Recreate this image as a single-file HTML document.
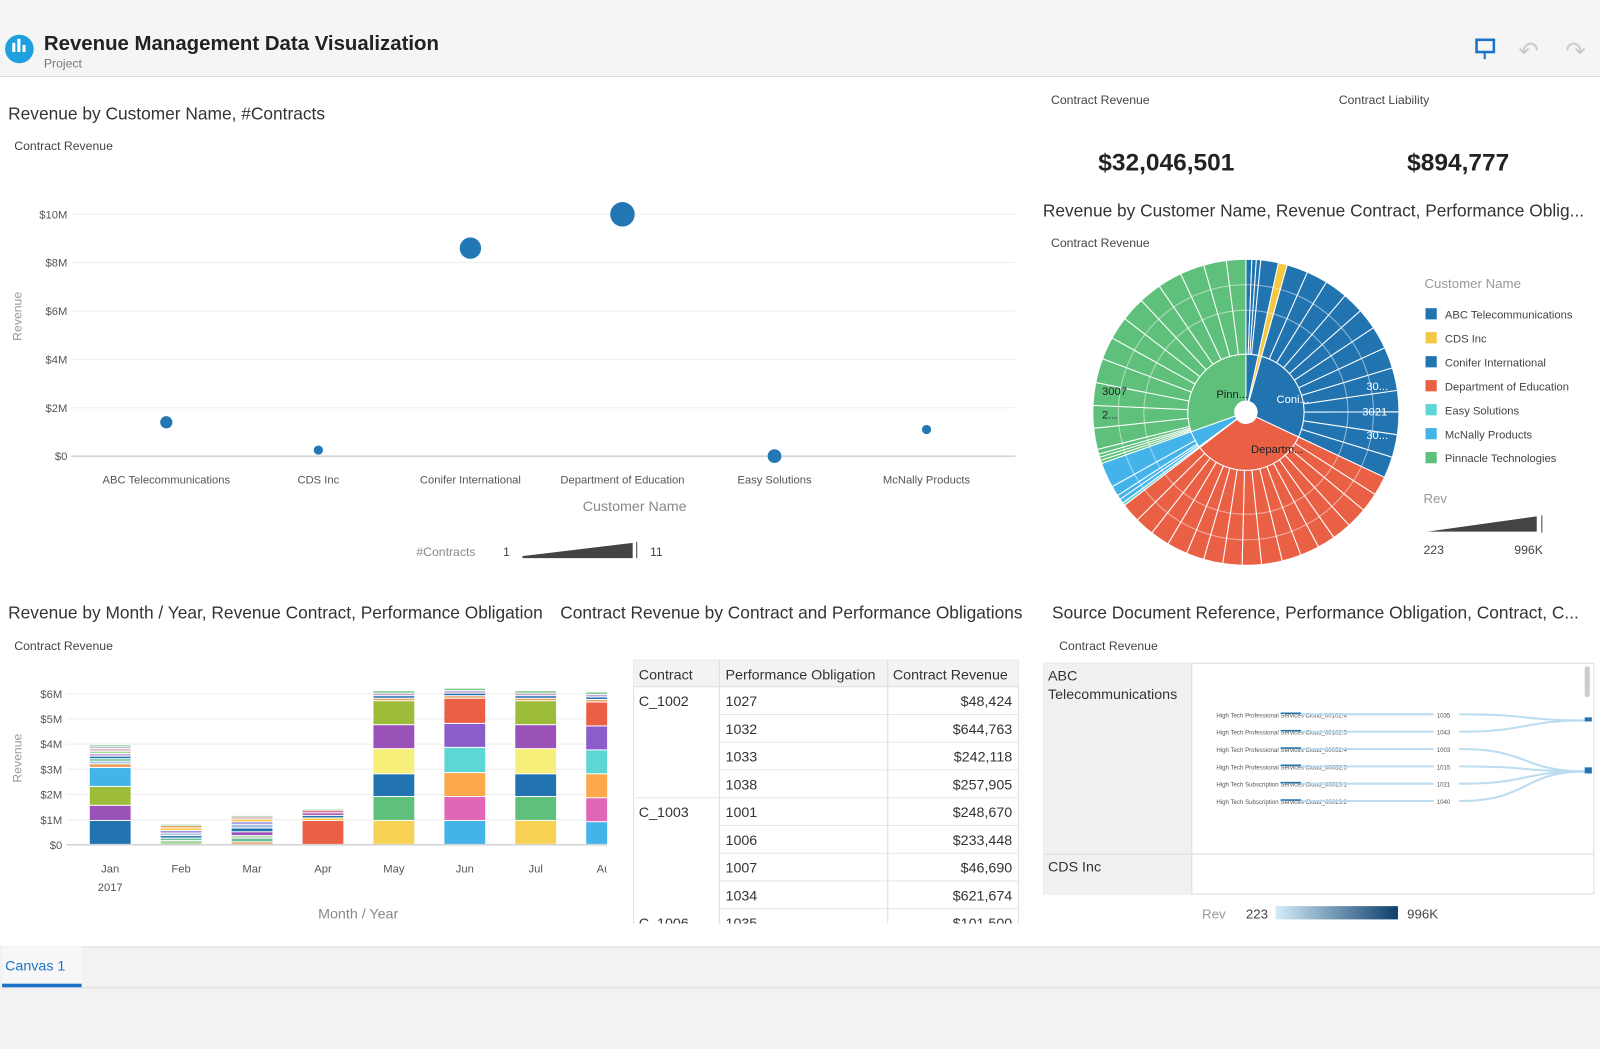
<!DOCTYPE html>
<html><head><meta charset="utf-8"><style>
html,body{margin:0;padding:0;background:#fff;overflow:hidden}
svg{display:block;font-family:"Liberation Sans",sans-serif}
</style></head><body>
<svg id="root" width="1600" height="1049" viewBox="0 0 1568 1028" preserveAspectRatio="none">
<rect x="0" y="0" width="1568" height="1028" fill="#ffffff"/>
<g>
<rect x="0" y="0" width="1568" height="75" fill="#f5f5f5"/>
<line x1="0" y1="75" x2="1568" y2="75" stroke="#dcdcdc"/>
<circle cx="19" cy="48" r="14" fill="#1ea0de"/>
<rect x="12" y="42" width="3" height="9" fill="#fff"/><rect x="17" y="38" width="3" height="13" fill="#fff"/><rect x="22" y="44" width="3" height="7" fill="#fff"/>
<text x="43" y="49" font-size="20" font-weight="bold" fill="#222">Revenue Management Data Visualization</text>
<text x="43" y="66" font-size="12" fill="#777">Project</text>
<g><rect x="1447" y="39" width="17" height="12" fill="none" stroke="#1a73c8" stroke-width="2.5"/><line x1="1455" y1="51" x2="1455" y2="58" stroke="#1a73c8" stroke-width="2"/></g>
<text x="1488" y="58" font-size="24" fill="#ccc">↶</text>
<text x="1534" y="58" font-size="24" fill="#ccc">↷</text>
</g>

<!-- Scatter chart -->
<g>
<text x="8" y="117" font-size="17" fill="#333">Revenue by Customer Name, #Contracts</text>
<text x="14" y="147" font-size="12" fill="#444">Contract Revenue</text>
<text transform="translate(21,310) rotate(-90)" font-size="12" fill="#999" text-anchor="middle">Revenue</text>
<defs><clipPath id="scclip"><rect x="0" y="150" width="996" height="340"/></clipPath></defs>
<g id="scatter" clip-path="url(#scclip)"></g>
<text x="622" y="501" font-size="14" fill="#888" text-anchor="middle">Customer Name</text>
<g>
<text x="408" y="545" font-size="12" fill="#888">#Contracts</text>
<text x="493" y="545" font-size="12" fill="#444">1</text>
<polygon points="512,545 620,532 620,547 512,547" fill="#444"/>
<line x1="624" y1="531" x2="624" y2="547" stroke="#444"/>
<text x="637" y="545" font-size="12" fill="#444">11</text>
</g>
</g>

<!-- KPIs -->
<g>
<text x="1030" y="102" font-size="12" fill="#444">Contract Revenue</text>
<text x="1312" y="102" font-size="12" fill="#444">Contract Liability</text>
<text x="1143" y="167" font-size="24" font-weight="bold" fill="#222" text-anchor="middle">$32,046,501</text>
<text x="1429" y="167" font-size="24" font-weight="bold" fill="#222" text-anchor="middle">$894,777</text>
</g>

<!-- Sunburst -->
<g>
<text x="1022" y="212" font-size="17" fill="#333">Revenue by Customer Name, Revenue Contract, Performance Oblig...</text>
<text x="1030" y="242" font-size="12" fill="#444">Contract Revenue</text>
<g id="sunburst"></g>
<g id="sunlegend"></g>
<text x="1395" y="493" font-size="13" fill="#999">Rev</text>
<polygon points="1399,521 1506,506 1506,521" fill="#444"/>
<line x1="1511" y1="505" x2="1511" y2="522" stroke="#444"/>
<text x="1395" y="543" font-size="12" fill="#444">223</text>
<text x="1484" y="543" font-size="12" fill="#444">996K</text>
</g>

<!-- Bar chart -->
<g>
<text x="8" y="606" font-size="17" fill="#333">Revenue by Month / Year, Revenue Contract, Performance Obligation</text>
<text x="14" y="637" font-size="12" fill="#444">Contract Revenue</text>
<text transform="translate(21,743) rotate(-90)" font-size="12" fill="#999" text-anchor="middle">Revenue</text>
<defs><clipPath id="barclip"><rect x="60" y="600" width="535" height="300"/></clipPath></defs>
<g id="bars" clip-path="url(#barclip)"></g>
<text x="351" y="900" font-size="14" fill="#888" text-anchor="middle">Month / Year</text>
</g>

<!-- Table -->
<g>
<text x="549" y="606" font-size="17" fill="#333">Contract Revenue by Contract and Performance Obligations</text>
<defs><clipPath id="tblclip"><rect x="620" y="645" width="380" height="260"/></clipPath></defs>
<g id="table" clip-path="url(#tblclip)"></g>
</g>

<!-- Sankey table -->
<g>
<text x="1031" y="606" font-size="17" fill="#333">Source Document Reference, Performance Obligation, Contract, C...</text>
<text x="1038" y="637" font-size="12" fill="#444">Contract Revenue</text>
<rect x="1023" y="650" width="539" height="226" fill="#fff" stroke="#ddd"/>
<rect x="1023" y="650" width="145" height="226" fill="#f1f1f1"/>
<line x1="1023" y1="837" x2="1562" y2="837" stroke="#ddd"/>
<line x1="1168" y1="650" x2="1168" y2="876" stroke="#ddd"/>
<text x="1027" y="667" font-size="14" fill="#333">ABC</text>
<text x="1027" y="685" font-size="14" fill="#333">Telecommunications</text>
<text x="1027" y="854" font-size="14" fill="#333">CDS Inc</text>
<rect x="1553" y="653" width="5" height="30" fill="#ccc" rx="2"/>
<g id="flows"></g>
<text x="1178" y="900" font-size="13" fill="#999">Rev</text>
<text x="1221" y="900" font-size="13" fill="#444">223</text>
<defs><linearGradient id="rg"><stop offset="0" stop-color="#d4ecfa"/><stop offset="1" stop-color="#0d3f6b"/></linearGradient></defs>
<rect x="1250" y="888" width="120" height="13" fill="url(#rg)"/>
<text x="1379" y="900" font-size="13" fill="#444">996K</text>
</g>

<!-- Bottom tabs -->
<g>
<rect x="0" y="928" width="1568" height="100" fill="#f2f2f2"/>
<line x1="0" y1="928" x2="1568" y2="928" stroke="#ddd"/>
<rect x="2" y="928" width="78" height="40" fill="#f7f7f7"/>
<rect x="2" y="964" width="78" height="4" fill="#1a73c8"/>
<text x="5" y="951" font-size="14" fill="#1a73c8">Canvas 1</text>
<line x1="0" y1="968" x2="1568" y2="968" stroke="#ddd"/>
</g>
</svg>
<script>
const NS='http://www.w3.org/2000/svg';
function mk(tag,attrs,parent,txt){const e=document.createElementNS(NS,tag);for(const k in attrs)e.setAttribute(k,attrs[k]);if(txt!==undefined)e.textContent=txt;parent.appendChild(e);return e;}

/* ---------- Scatter data ---------- */
const customers=['ABC Telecommunications','CDS Inc','Conifer International','Department of Education','Easy Solutions','McNally Products','Pinnacle Technologies'];
const revenueM=[1.4,0.25,8.6,10.0,0,1.1,9.8];
const contracts=[3,1,9,11,4,1,10];
const yTicks=[0,2,4,6,8,10];
const yTickLabels=['$0','$2M','$4M','$6M','$8M','$10M'];

const sx=i=>163+i*149;
const sy=v=>447-v*23.7;
const sr=c=>4.5+(c-1)*0.75;
const sc=document.getElementById('scatter');
yTicks.forEach((t,i)=>{
  const g=mk('line',{x1:70,x2:995,y1:sy(t),y2:sy(t),stroke:t===0?'#bbb':'#eee'},sc);
  
  
  const l=mk('text',{x:66,y:sy(t)+4,'font-size':11,fill:'#555','text-anchor':'end'},sc,yTickLabels[i]);
  
  
});
customers.forEach((c,i)=>{
  const lbl=mk('text',{x:sx(i),y:474,'font-size':11,fill:'#555','text-anchor':'middle'},sc,c);
  
  
  const p=mk('circle',{cx:sx(i),cy:sy(revenueM[i]),r:sr(contracts[i]),fill:'#2277b4'},sc);
  
  
});

/* ---------- Sunburst data ---------- */
const sbColors=['#2274b1','#f5c842','#2274b1','#ea6045','#5fd6d6','#43b3ea','#5ec07a'];
const sbValues=[1.1,0.3,8.9,10.5,0.1,1.5,9.8];
const sbChildren=[
 [0.2,0.15,0.15,0.6],[0.3],
 [0.7,0.7,0.75,0.7,0.7,0.75,0.7,0.75,0.7,0.75,0.75,0.7],
 [0.65,0.65,0.7,0.65,0.6,0.65,0.65,0.7,0.65,0.65,0.65,0.6,0.7,0.65,0.65,0.65],
 [0.1],[0.15,0.15,0.35,0.85],
 [0.1,0.1,0.1,0.15,0.65,0.7,0.7,0.75,0.7,0.7,0.75,0.7,0.75,0.75,0.7,0.6]
];
const CX=1221,CY=404,R0=11,R1=57,R2=150;
const total=sbValues.reduce((a,b)=>a+b,0);
const ang=v=>v/total*2*Math.PI;
function arc(a0,a1,r0,r1){
  const p=(a,r)=>[CX+r*Math.sin(a),CY-r*Math.cos(a)];
  const [x0,y0]=p(a0,r1),[x1,y1]=p(a1,r1),[x2,y2]=p(a1,r0),[x3,y3]=p(a0,r0);
  const lg=(a1-a0)>Math.PI?1:0;
  return `M${x0},${y0}A${r1},${r1} 0 ${lg} 1 ${x1},${y1}L${x2},${y2}A${r0},${r0} 0 ${lg} 0 ${x3},${y3}Z`;
}
const sb=document.getElementById('sunburst');
let a=0;
sbValues.forEach((v,i)=>{
  const a1=a+ang(v);
  const p=mk('path',{d:arc(a,a1,R0,R1),fill:sbColors[i],stroke:'#fff','stroke-width':1},sb);
  
  
  const ch=sbChildren[i];const cs=ch.reduce((x,y)=>x+y,0);
  let b=a;
  ch.forEach(cv=>{
    const b1=b+(a1-a)*cv/cs;
    const q=mk('path',{d:arc(b,b1,R1,R2),fill:sbColors[i],stroke:'#fff','stroke-width':1},sb);
    
    
    b=b1;
  });
  a=a1;
});
[100,125].forEach(r=>mk('circle',{cx:CX,cy:CY,r:r,fill:'none',stroke:'#fff','stroke-opacity':0.5,'stroke-width':1},sb));
[['Pinn...',1192,390,'#222'],['Coni...',1251,395,'#fff'],['Departm...',1226,444,'#222'],['3007',1080,387,'#222'],['2...',1080,410,'#222'],['30...',1339,382,'#fff'],['3021',1335,407,'#fff'],['30...',1339,430,'#fff']].forEach(l=>{
  const t=mk('text',{x:l[1],y:l[2],'font-size':11,fill:l[3]},sb,l[0]);
  
  
});
const sl=document.getElementById('sunlegend');
mk('text',{x:1396,y:282,'font-size':13,fill:'#999'},sl,'Customer Name');
customers.forEach((c,i)=>{
  const y=308+i*23.5;
  const s=mk('rect',{x:1397,y:y-6,width:11,height:11,fill:sbColors[i]},sl);
  
  
  const t=mk('text',{x:1416,y:y+4,'font-size':11,fill:'#444'},sl,c);
  
  
});

/* ---------- Stacked bar data ---------- */
const months=['Jan','Feb','Mar','Apr','May','Jun','Jul','Aug'];
const barTicks=[0,1,2,3,4,5,6];
const barTickLabels=['$0','$1M','$2M','$3M','$4M','$5M','$6M'];
const segValues=[
 [0.95,0.6,0.75,0.75,0.15,0.1,0.1,0.1,0.1,0.1,0.1,0.1,0.05],
 [0.15,0.1,0.1,0.1,0.1,0.1,0.1,0.05],
 [0.1,0.15,0.1,0.15,0.15,0.15,0.1,0.1,0.1,0.05],
 [0.95,0.1,0.1,0.1,0.1,0.05],
 [0.95,0.95,0.9,1.0,0.95,0.95,0.1,0.1,0.1,0.1],
 [0.95,0.95,0.95,1.0,0.95,1.0,0.1,0.1,0.1,0.1],
 [0.95,0.95,0.9,1.0,0.95,0.95,0.1,0.1,0.1,0.1],
 [0.9,0.95,0.95,0.95,0.95,0.95,0.1,0.1,0.1,0.1]
];
const segColors=[
 ['#2274b1','#9b52b8','#9dbd3a','#43b3ea','#e8a263','#a8c0e0','#6bbf9a','#2274b1','#c6a0d8','#a8d8a0','#e0b0c0','#c0c0c0','#7dcc8a'],
 ['#a8d8a0','#6bbf9a','#2274b1','#a8c0e0','#9b8ad8','#f5c842','#e8a263','#7dcc8a'],
 ['#e8a263','#6bbf9a','#a8d8a0','#9b52b8','#2274b1','#a8c0e0','#9b8ad8','#f5c842','#e0b0c0','#7dcc8a'],
 ['#ea6045','#f5c842','#2274b1','#9b52b8','#e07090','#7dcc8a'],
 ['#f7d154','#5ec07a','#2274b1','#f6ef7a','#9b52b8','#9dbd3a','#e8a263','#2274b1','#c6a0d8','#7dcc8a'],
 ['#43b3ea','#e266b8','#fba94a','#5fd6d6','#8a5ccc','#ea6045','#e8a263','#2274b1','#c6a0d8','#7dcc8a'],
 ['#f7d154','#5ec07a','#2274b1','#f6ef7a','#9b52b8','#9dbd3a','#e8a263','#2274b1','#c6a0d8','#7dcc8a'],
 ['#43b3ea','#e266b8','#fba94a','#5fd6d6','#8a5ccc','#ea6045','#e8a263','#2274b1','#c6a0d8','#7dcc8a']
];
const bx=i=>108+i*69.5;
const by=v=>828-v*24.7;
const bg=document.getElementById('bars');
const bp=document.getElementById('bars').parentNode;
barTicks.forEach((t,i)=>{
  const g=mk('line',{x1:65,x2:595,y1:by(t),y2:by(t),stroke:t===0?'#bbb':'#eee'},bg);
  
  
  const l=mk('text',{x:61,y:by(t)+4,'font-size':11,fill:'#555','text-anchor':'end'},bp,barTickLabels[i]);
  
  
});
months.forEach((m,i)=>{
  let acc=0;
  segValues[i].forEach((v,j)=>{
    const r=mk('rect',{x:bx(i)-20,y:by(acc+v),width:40,height:Math.max(by(acc)-by(acc+v)-1,0.6),fill:segColors[i][j]},bg);
    
    
    acc+=v;
  });
  const t=mk('text',{x:bx(i),y:855,'font-size':11,fill:'#555','text-anchor':'middle'},bg,m);
  
  
});
mk('text',{x:bx(0),y:873,'font-size':11,fill:'#555','text-anchor':'middle'},bp,'2017');

/* ---------- Table ---------- */
const tContracts=['C_1002','','','','C_1003','','','','C_1006'];
const tObligations=['1027','1032','1033','1038','1001','1006','1007','1034','1035'];
const tRevenue=['$48,424','$644,763','$242,118','$257,905','$248,670','$233,448','$46,690','$621,674','$101,500'];
const tb=document.getElementById('table');
mk('rect',{x:621,y:647,width:377,height:260,fill:'#fff',stroke:'#ddd'},tb);
mk('rect',{x:621,y:647,width:377,height:26,fill:'#f3f3f3'},tb);
[['Contract',626],['Performance Obligation',711],['Contract Revenue',875]].forEach(h=>{
  const t=mk('text',{x:h[1],y:666,'font-size':14,fill:'#333'},tb,h[0]);
  
  
});
[705,870].forEach(x=>mk('line',{x1:x,x2:x,y1:647,y2:910,stroke:'#ddd'},tb));
mk('line',{x1:621,x2:998,y1:673,y2:673,stroke:'#ddd'},tb);
tObligations.forEach((o,i)=>{
  const y=673+i*27.2;
  mk('line',{x1:705,x2:998,y1:y+27.2,y2:y+27.2,stroke:'#e6e6e6'},tb);
  if(i===3) mk('line',{x1:621,x2:705,y1:y+27.2,y2:y+27.2,stroke:'#e6e6e6'},tb);
  if(tContracts[i]){const c=mk('text',{x:626,y:y+19,'font-size':14,fill:'#333'},tb,tContracts[i]);}
  const a=mk('text',{x:711,y:y+19,'font-size':14,fill:'#333'},tb,o);
  
  
  const b=mk('text',{x:992,y:y+19,'font-size':14,fill:'#333','text-anchor':'end'},tb,tRevenue[i]);
  
  
});

/* ---------- Flows ---------- */
const flowLabels=['High Tech Professional Services Cloud_00102.4','High Tech Professional Services Cloud_00102.5','High Tech Professional Services Cloud_00052.4','High Tech Professional Services Cloud_00052.5','High Tech Subscription Services Cloud_00013.1','High Tech Subscription Services Cloud_00013.2'];
const flowIds=['1035','1043','1003','1015','1021','1040'];
const fl=document.getElementById('flows');
flowLabels.forEach((f,i)=>{
  const y=703+i*17;
  const t=mk('text',{x:1192,y:y,'font-size':6,fill:'#555'},fl,f);
  
  
  mk('line',{x1:1255,x2:1275,y1:y-4,y2:y-4,stroke:'#2274b1','stroke-width':1.5},fl);
  mk('path',{d:`M1275,${y-3} C1340,${y-3} 1340,${y-3} 1405,${y-3}`,stroke:'#bcdcf0','stroke-width':2,fill:'none'},fl);
  mk('text',{x:1408,y:y,'font-size':6,fill:'#555'},fl,flowIds[i]);
  mk('path',{d:`M1430,${y-3} C1500,${y-3} 1490,${i<2?706:756} 1555,${i<2?706:756}`,stroke:'#bcdcf0','stroke-width':2,fill:'none'},fl);
});
mk('rect',{x:1553,y:703,width:7,height:4,fill:'#2274b1'},fl);
mk('rect',{x:1553,y:752,width:7,height:6,fill:'#2274b1'},fl);
</script>
</body></html>
